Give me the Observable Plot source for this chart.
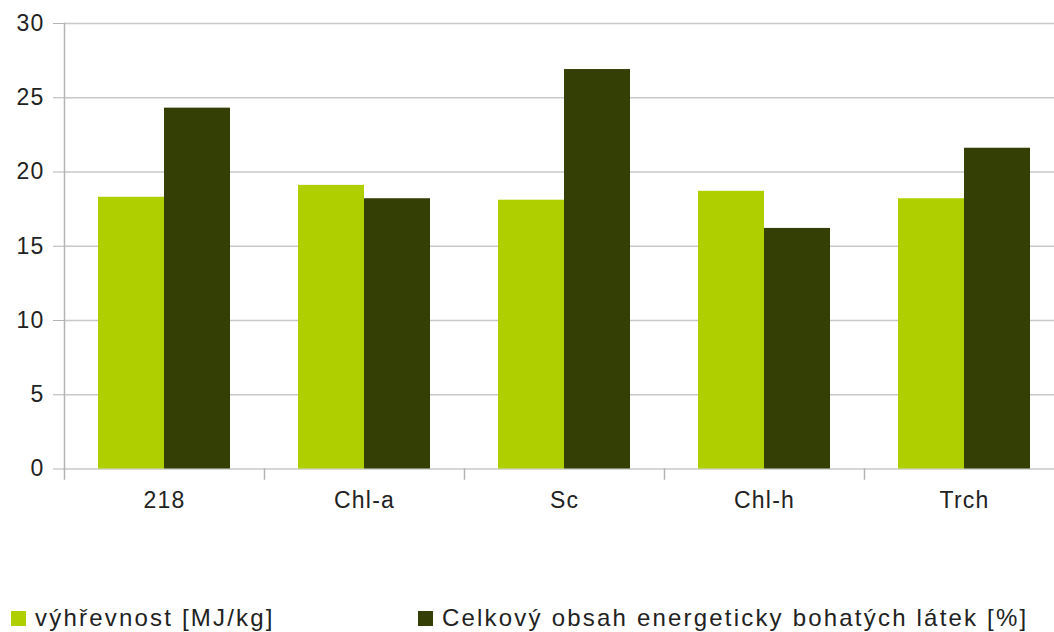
<!DOCTYPE html>
<html>
<head>
<meta charset="utf-8">
<script src="https://cdn.jsdelivr.net/npm/d3@7"></script>
<script src="https://cdn.jsdelivr.net/npm/@observablehq/plot@0.6"></script>
<style>
  html, body { margin: 0; padding: 0; background: #fff; overflow: hidden; }
  body { width: 1054px; height: 632px; position: relative; font-family: "Liberation Sans", Arial, sans-serif; }
  #chart { position: absolute; left: 0; top: 0; }
  #chart svg text { letter-spacing: 1.2px; }
  .legend { position: absolute; top: 604px; left: 0; width: 1054px; height: 28px; font-size: 24px; color: #222; letter-spacing: 2.2px; }
  .legend .item { position: absolute; top: 0; display: flex; align-items: center; white-space: nowrap; }
  .legend .swatch { width: 15px; height: 15px; margin-right: 9px; }
</style>
</head>
<body>
<div id="chart"></div>
<div class="legend" id="legend"></div>
<script>
// Samples on the category axis
const categories = ["218", "Chl-a", "Sc", "Chl-h", "Trch"];
// Series names (legend text)
const seriesNames = ["výhřevnost [MJ/kg]", "Celkový obsah energeticky bohatých látek [%]"];
// Series values, one per category
const heatingValue = [18.3, 19.1, 18.1, 18.7, 18.2];
const energyRich = [24.3, 18.2, 26.9, 16.2, 21.6];
// Series colours
const seriesColors = ["#b0cf00", "#333f05"];
// Y axis ticks
const yTicks = [0, 5, 10, 15, 20, 25, 30];

const table = categories.flatMap((c, i) => [
  {category: c, series: seriesNames[0], value: heatingValue[i]},
  {category: c, series: seriesNames[1], value: energyRich[i]}
]);

const W = 1064, H = 540, mTop = 23, mBottom = 71.5, mLeft = 63;
const plotH = H - mTop - mBottom;
const axisGray = "#b4b4b4";

const chart = Plot.plot({
  width: W,
  height: H,
  marginTop: mTop,
  marginBottom: mBottom,
  marginLeft: mLeft,
  marginRight: 0,
  style: {fontFamily: "'Liberation Sans', Arial, sans-serif", fontSize: "23px", color: "#222", background: "#fff", overflow: "visible", maxWidth: "none"},
  fx: {domain: categories, padding: 0, label: null, axis: null},
  x: {domain: seriesNames, paddingInner: 0, paddingOuter: 0.5, axis: null},
  y: {domain: [0, 30], axis: null},
  color: {domain: seriesNames, range: seriesColors},
  marks: [
    // horizontal grid (includes the baseline at 0)
    Plot.ruleY(yTicks, {stroke: "#c8c8c8", strokeWidth: 1.5}),
    // short category separators below the baseline
    Plot.frame({anchor: "left", stroke: axisGray, strokeWidth: 1.5, insetTop: plotH, insetBottom: -10}),
    // vertical value axis line on the first category only
    Plot.frame({anchor: "left", fx: () => categories[0], stroke: axisGray, strokeWidth: 1.5}),
    Plot.barY(table, {fx: "category", x: "series", y: "value", fill: "series"}),
    Plot.axisY({ticks: yTicks, tickSize: 11, tickPadding: 9, stroke: axisGray, fill: "#222", tickFormat: d => String(d), fontSize: 23, label: null}),
    Plot.axisFx({anchor: "bottom", tickSize: 0, tickPadding: 23, fill: "#222", fontSize: 23, label: null})
  ]
});
document.getElementById("chart").appendChild(chart);

// Legend below the chart
const legend = document.getElementById("legend");
const legendLeft = [11, 418];
seriesNames.forEach((name, i) => {
  const item = document.createElement("div");
  item.className = "item";
  item.style.left = legendLeft[i] + "px";
  const sw = document.createElement("span");
  sw.className = "swatch";
  sw.style.background = seriesColors[i];
  const label = document.createElement("span");
  label.textContent = name;
  item.appendChild(sw);
  item.appendChild(label);
  legend.appendChild(item);
});
</script>
</body>
</html>
